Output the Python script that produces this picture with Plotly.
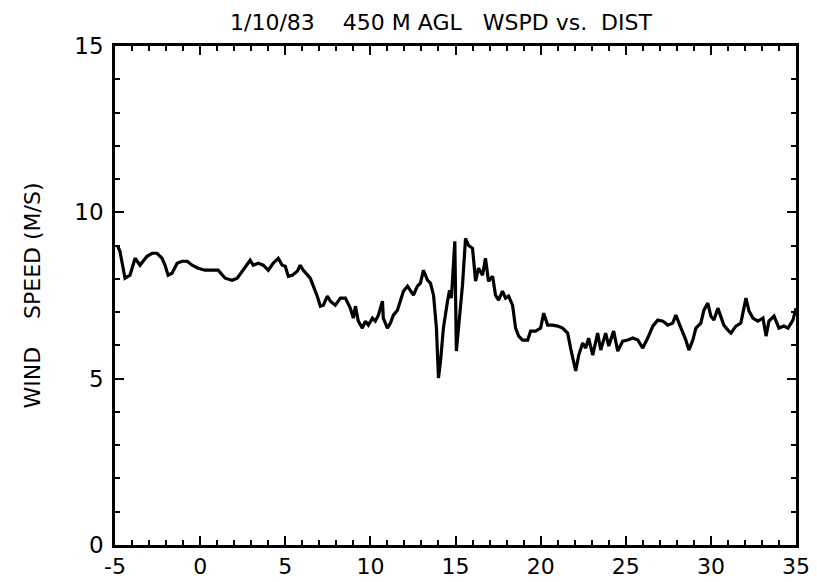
import plotly.graph_objects as go

dist = [-4.85, -4.71, -4.41, -4.12, -3.82, -3.53, -3.35, -3.12, -2.82, -2.53, -2.24, -2.06, -1.88, -1.65,
        -1.35, -1.06, -0.76, -0.47, -0.12, 0.29, 0.59, 0.88, 1.06, 1.47, 1.88, 2.18, 2.47, 2.76, 2.94,
        3.12, 3.41, 3.71, 4.00, 4.29, 4.59, 4.82, 5.00, 5.18, 5.41, 5.71, 5.88, 6.06, 6.29, 6.47, 6.65,
        6.88, 7.06, 7.24, 7.47, 7.65, 7.94, 8.24, 8.53, 8.82, 9.00, 9.12, 9.29, 9.53, 9.71, 9.88, 10.12,
        10.29, 10.47, 10.71, 10.76, 11.00, 11.18, 11.35, 11.59, 11.76, 11.94, 12.18, 12.35, 12.53, 12.76,
        12.94, 13.12, 13.35, 13.53, 13.71, 13.88, 13.94, 14.00, 14.12, 14.29, 14.53, 14.65, 14.76, 14.88,
        14.96, 15.05, 15.20, 15.41, 15.59, 15.76, 16.00, 16.18, 16.35, 16.59, 16.76, 16.94, 17.18, 17.35,
        17.53, 17.76, 17.94, 18.12, 18.35, 18.53, 18.71, 18.94, 19.24, 19.41, 19.71, 20.00, 20.18, 20.41,
        20.71, 21.00, 21.29, 21.59, 21.76, 22.06, 22.24, 22.47, 22.65, 22.82, 23.06, 23.35, 23.53, 23.82,
        24.00, 24.29, 24.53, 24.82, 25.12, 25.41, 25.71, 26.00, 26.29, 26.59, 26.88, 27.18, 27.47, 27.76,
        27.94, 28.24, 28.53, 28.71, 28.94, 29.12, 29.41, 29.59, 29.82, 30.00, 30.18, 30.41, 30.59, 30.76,
        31.00, 31.18, 31.47, 31.76, 32.06, 32.24, 32.47, 32.76, 33.06, 33.24, 33.41, 33.71, 34.00, 34.29,
        34.53, 34.82, 35.00]

wspd = [9.00, 8.83, 8.02, 8.11, 8.62, 8.41, 8.53, 8.68, 8.77, 8.77, 8.62, 8.41, 8.11, 8.17,
        8.47, 8.53, 8.53, 8.41, 8.32, 8.26, 8.26, 8.26, 8.26, 8.02, 7.96, 8.02, 8.23, 8.41, 8.56,
        8.41, 8.47, 8.41, 8.26, 8.47, 8.62, 8.41, 8.38, 8.08, 8.11, 8.23, 8.41, 8.26, 8.11, 8.02, 7.78,
        7.48, 7.18, 7.21, 7.48, 7.33, 7.21, 7.42, 7.42, 7.12, 6.82, 7.18, 6.73, 6.52, 6.73, 6.61, 6.82,
        6.73, 6.91, 7.33, 6.82, 6.52, 6.67, 6.91, 7.06, 7.36, 7.63, 7.78, 7.66, 7.51, 7.78,
        7.87, 8.26, 7.96, 7.87, 7.51, 6.52, 5.62, 5.02, 5.53, 6.52, 7.33, 7.66, 7.42, 8.53,
        9.13, 5.83, 6.60, 7.81, 9.22, 9.01, 8.92, 7.93, 8.32, 8.11, 8.62, 7.93, 8.08, 7.51,
        7.36, 7.63, 7.42, 7.48, 7.21, 6.52, 6.28, 6.16, 6.16, 6.43, 6.43, 6.52, 6.97, 6.61,
        6.61, 6.58, 6.52, 6.37, 5.92, 5.23, 5.71, 6.07, 5.92, 6.22, 5.71, 6.37, 5.86, 6.37,
        5.98, 6.43, 5.83, 6.13, 6.16, 6.22, 6.16, 5.92, 6.22, 6.58, 6.76, 6.73, 6.61, 6.67,
        6.91, 6.52, 6.16, 5.86, 6.16, 6.52, 6.67, 7.06, 7.27, 6.88, 6.76, 7.12, 6.82, 6.61,
        6.46, 6.37, 6.58, 6.67, 7.42, 7.03, 6.82, 6.73, 6.82, 6.28, 6.73, 6.88, 6.52, 6.58,
        6.52, 6.76, 7.12]

x_ticks = [-5, 0, 5, 10, 15, 20, 25, 30, 35]
y_ticks = [0, 5, 10, 15]
x_range = [-5, 35]
y_range = [0, 15]

title_text = "1/10/83&nbsp;&nbsp;&nbsp;&nbsp;450 M AGL&nbsp;&nbsp;&nbsp;WSPD vs.&nbsp;&nbsp;DIST"
y_title = "WIND&nbsp;&nbsp;&nbsp;&nbsp;SPEED (M/S)"

fig = go.Figure()
fig.add_trace(go.Scatter(x=dist, y=wspd, mode="lines",
                         line=dict(color="black", width=3.2), showlegend=False, hoverinfo="skip"))

tick_common = dict(
    showgrid=False, zeroline=False, showline=True, linecolor="black", linewidth=2.5,
    mirror="allticks", ticks="inside", ticklen=9, tickwidth=2, tickcolor="black",
    minor=dict(ticks="inside", ticklen=5, tickwidth=2, tickcolor="black", dtick=1, showgrid=False),
    automargin=False,
)

fig.update_layout(
    width=817, height=582,
    margin=dict(l=115, r=21, t=46, b=37),
    paper_bgcolor="white", plot_bgcolor="white",
    title=dict(text=title_text, x=441 / 817, xanchor="center", y=1 - 22 / 582, yanchor="middle",
               font=dict(family="DejaVu Sans", size=22, color="black")),
    xaxis=dict(range=x_range, tickvals=x_ticks, ticktext=[str(v) for v in x_ticks],
               tickfont=dict(family="DejaVu Sans", size=22, color="black"),
               ticklabelstandoff=0, **tick_common),
    yaxis=dict(range=y_range, tickvals=y_ticks, ticktext=[str(v) for v in y_ticks],
               tickfont=dict(family="DejaVu Sans", size=23, color="black"),
               ticklabelstandoff=4,
               title=dict(text=y_title, font=dict(family="DejaVu Sans", size=22, color="black"),
                          standoff=28),
               **tick_common),
)

fig.write_html("out.html")
